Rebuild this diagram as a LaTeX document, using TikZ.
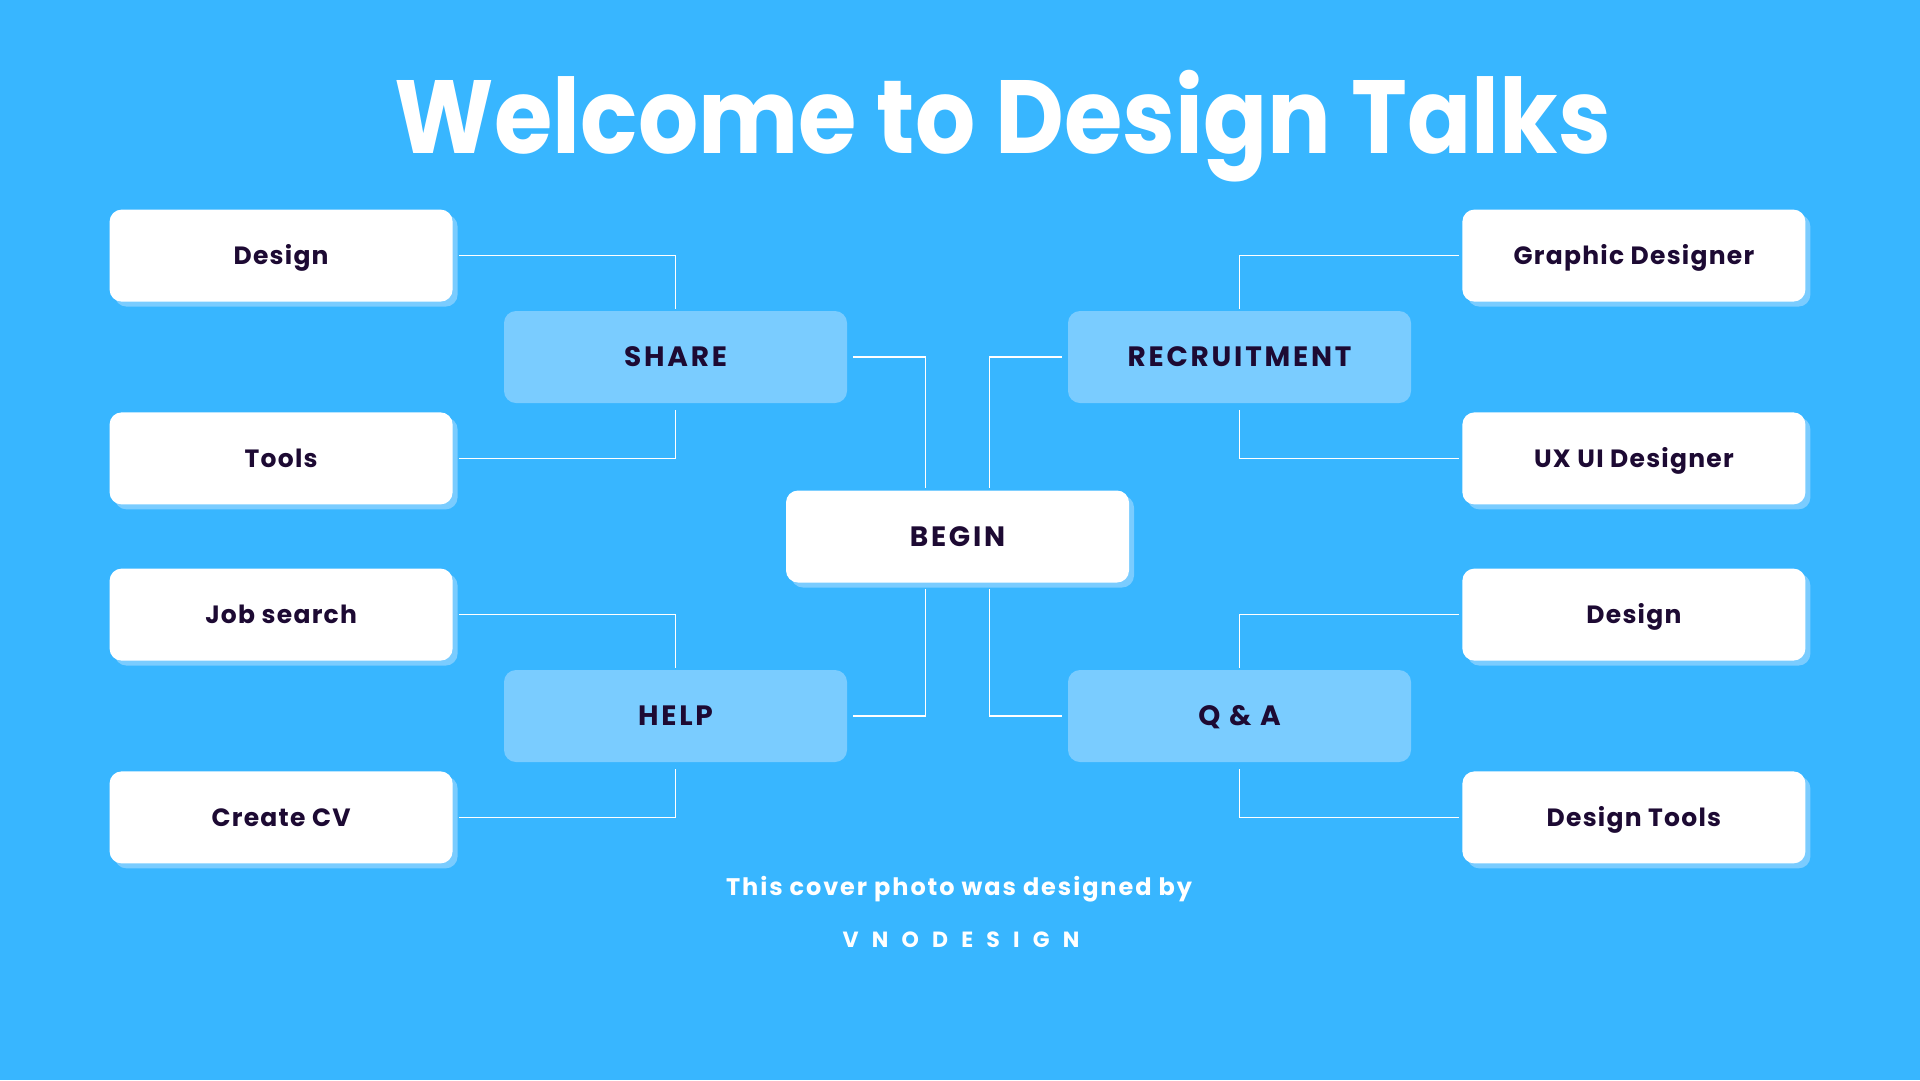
\documentclass[tikz,border=0pt]{standalone}
\usepackage{fontspec}
\setmainfont{Poppins}
\usetikzlibrary{positioning,shadows}

\definecolor{bgblue}{HTML}{38B6FF}
\definecolor{paleblue}{HTML}{7ACCFF}
\definecolor{inkpurple}{HTML}{1D0A33}

\begin{document}
\begin{tikzpicture}[
        x=1pt, y=-1pt,
        node distance=9pt and 51pt,
        box/.style={rectangle, rounded corners=12pt, text=inkpurple, minimum width=343pt, minimum height=92pt, inner sep=0pt, text depth=0pt},
        leaf/.style={box, fill=white, text height=17.5pt, font=\fontsize{25}{30}\selectfont\bfseries\addfontfeature{LetterSpace=5}, general shadow={fill=paleblue, shadow xshift=5pt, shadow yshift=-5pt}},
        hub/.style={box, fill=paleblue, text height=19.6pt, font=\fontsize{28}{33}\selectfont\bfseries\addfontfeature{LetterSpace=10}},
        link/.style={draw=white, line width=1.2pt}
    ]
        % Canvas
        \fill[bgblue] (0,0) rectangle (1920,1080);
        \useasboundingbox (0,0) rectangle (1920,1080);

        % Title
        \node[anchor=base, text=white, font=\fontsize{104}{114}\selectfont\bfseries] (title) at (1003,153) {\scalebox{0.91}[1]{Welcome to Design Talks}};

        % Centre and hubs
        \node[leaf, text height=19.6pt, font=\fontsize{28}{33}\selectfont\bfseries\addfontfeature{LetterSpace=10}] (begin) at (957.5,536.5) {BEGIN};
        \node[hub] (share) at (675.5,357) {SHARE};
        \node[hub] (recruit) at (1239.5,357) {RECRUITMENT};
        \node[hub] (help) at (675.5,716) {HELP};
        \node[hub] (qa) at (1239.5,716) {Q \& A};

        % Left leaves
        \node[leaf, above left=of share] (design1) {Design};
        \node[leaf, below left=of share] (tools) {Tools};
        \node[leaf, above left=of help] (jobsearch) {Job search};
        \node[leaf, below left=of help] (createcv) {Create CV};

        % Right leaves
        \node[leaf, above right=of recruit] (graphic) {Graphic Designer};
        \node[leaf, below right=of recruit] (uxui) {UX UI Designer};
        \node[leaf, above right=of qa] (design2) {Design};
        \node[leaf, below right=of qa] (designtools) {Design Tools};

        % Connections to the centre
        \draw[link] ([xshift=6pt]share.east) -| ([xshift=-32pt,yshift=2pt]begin.north);
        \draw[link] ([xshift=-6pt]recruit.west) -| ([xshift=32pt,yshift=2pt]begin.north);
        \draw[link] ([xshift=6pt]help.east) -| ([xshift=-32pt,yshift=-6pt]begin.south);
        \draw[link] ([xshift=-6pt]qa.west) -| ([xshift=32pt,yshift=-6pt]begin.south);

        % Left branches
        \draw[link] ([xshift=6pt]design1.east) -| ([yshift=2pt]share.north);
        \draw[link] ([xshift=6pt]tools.east) -| ([yshift=-7pt]share.south);
        \draw[link] ([xshift=6pt]jobsearch.east) -| ([yshift=2pt]help.north);
        \draw[link] ([xshift=6pt]createcv.east) -| ([yshift=-7pt]help.south);

        % Right branches
        \draw[link] ([xshift=-3pt]graphic.west) -| ([yshift=2pt]recruit.north);
        \draw[link] ([xshift=-3pt]uxui.west) -| ([yshift=-7pt]recruit.south);
        \draw[link] ([xshift=-3pt]design2.west) -| ([yshift=2pt]qa.north);
        \draw[link] ([xshift=-3pt]designtools.west) -| ([yshift=-7pt]qa.south);

        % Credits
        \node[anchor=base, text=white, font=\fontsize{24}{28}\selectfont\bfseries\addfontfeature{LetterSpace=8}] (credit) at (959,895) {This cover photo was designed by};
        \node[anchor=base, text=white, font=\fontsize{22}{26}\selectfont\bfseries\addfontfeature{LetterSpace=60}] (brand) at (961,947) {VNODESIGN};
    \end{tikzpicture}
\end{document}
